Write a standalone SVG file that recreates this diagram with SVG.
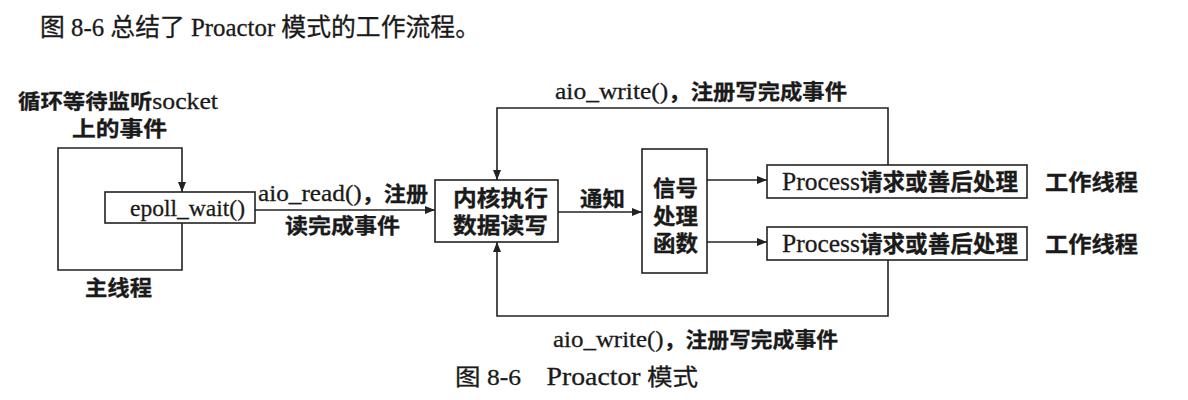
<svg xmlns="http://www.w3.org/2000/svg" width="1188" height="400" viewBox="0 0 1188 400">
<style>
.t{font-family:"Liberation Serif","Noto Sans CJK SC",serif;fill:#1a1a1a;stroke:#1a1a1a;stroke-width:0.3}
.b{font-weight:bold}
.n{font-weight:normal}
.box{fill:#fff;stroke:#222;stroke-width:1.6}
.ln{fill:none;stroke:#222;stroke-width:1.6}
</style>
<defs>
<marker id="ah" viewBox="0 0 10 8" refX="10" refY="4" markerWidth="10" markerHeight="8" markerUnits="userSpaceOnUse" orient="auto">
<path d="M0,0 L10,4 L0,8 z" fill="#222"/>
</marker>
</defs>
<rect width="1188" height="400" fill="#fff"/>
<text class="t" x="40" y="36" font-size="25" textLength="440" lengthAdjust="spacingAndGlyphs">图 8-6 总结了 Proactor 模式的工作流程。</text>

<g id="connectors">
<path class="ln" d="M182,223 V270 H58 V148 H182 V192" marker-end="url(#ah)"/>
<path class="ln" d="M255,210 H435" marker-end="url(#ah)"/>
<path class="ln" d="M888,165 V108 H497 V180" marker-end="url(#ah)"/>
<path class="ln" d="M888,260 V316 H497 V242" marker-end="url(#ah)"/>
<path class="ln" d="M558,212 H642" marker-end="url(#ah)"/>
<path class="ln" d="M707,180 H767" marker-end="url(#ah)"/>
<path class="ln" d="M707,242 H767" marker-end="url(#ah)"/>
<text class="t b" x="18" y="109" font-size="20" textLength="200" lengthAdjust="spacingAndGlyphs">循环等待监听<tspan class="n" font-size="23">socket</tspan></text>
<text class="t b" x="72" y="136" font-size="21" textLength="95" lengthAdjust="spacingAndGlyphs">上的事件</text>
<text class="t b" x="85" y="295" font-size="21" textLength="67" lengthAdjust="spacingAndGlyphs">主线程</text>
<text class="t b" x="258" y="201" font-size="21" textLength="170" lengthAdjust="spacingAndGlyphs"><tspan class="n" font-size="24">aio_read()</tspan>，注册</text>
<text class="t b" x="285" y="233" font-size="21" textLength="115" lengthAdjust="spacingAndGlyphs">读完成事件</text>
<text class="t b" x="555" y="99" font-size="21" textLength="292" lengthAdjust="spacingAndGlyphs"><tspan class="n" font-size="24">aio_write()</tspan>，注册写完成事件</text>
<text class="t b" x="553" y="347" font-size="21" textLength="285" lengthAdjust="spacingAndGlyphs"><tspan class="n" font-size="24">aio_write()</tspan>，注册写完成事件</text>
<text class="t b" x="580" y="206" font-size="21" textLength="45" lengthAdjust="spacingAndGlyphs">通知</text>
</g>

<g id="epoll">
<rect class="box" x="105" y="192" width="150" height="31"/>
<text class="t" x="130" y="216" font-size="24" textLength="115" lengthAdjust="spacingAndGlyphs">epoll_wait()</text>
</g>
<g id="kernel">
<rect class="box" x="435" y="180" width="123" height="62"/>
<text class="t b" x="453" y="206" font-size="22" textLength="95" lengthAdjust="spacingAndGlyphs">内核执行</text>
<text class="t b" x="453" y="233" font-size="22" textLength="95" lengthAdjust="spacingAndGlyphs">数据读写</text>
</g>
<g id="signal">
<rect class="box" x="642" y="149" width="65" height="124"/>
<text class="t b" x="653" y="196" font-size="22" textLength="45" lengthAdjust="spacingAndGlyphs">信号</text>
<text class="t b" x="653" y="224" font-size="22" textLength="45" lengthAdjust="spacingAndGlyphs">处理</text>
<text class="t b" x="653" y="251" font-size="22" textLength="45" lengthAdjust="spacingAndGlyphs">函数</text>
</g>
<g id="process1">
<rect class="box" x="767" y="165" width="260" height="33"/>
<text class="t b" x="782" y="190" font-size="23" textLength="236" lengthAdjust="spacingAndGlyphs"><tspan class="n" font-size="26">Process</tspan>请求或善后处理</text>
<text class="t b" x="1045" y="190" font-size="22" textLength="93" lengthAdjust="spacingAndGlyphs">工作线程</text>
</g>
<g id="process2">
<rect class="box" x="767" y="227" width="260" height="33"/>
<text class="t b" x="782" y="252" font-size="23" textLength="236" lengthAdjust="spacingAndGlyphs"><tspan class="n" font-size="26">Process</tspan>请求或善后处理</text>
<text class="t b" x="1045" y="252" font-size="22" textLength="93" lengthAdjust="spacingAndGlyphs">工作线程</text>
</g>

<text class="t" x="455" y="385" font-size="23" textLength="243" lengthAdjust="spacingAndGlyphs">图 8-6&#160;&#160;&#160;&#160;<tspan font-size="25">Proactor</tspan> 模式</text>
</svg>
